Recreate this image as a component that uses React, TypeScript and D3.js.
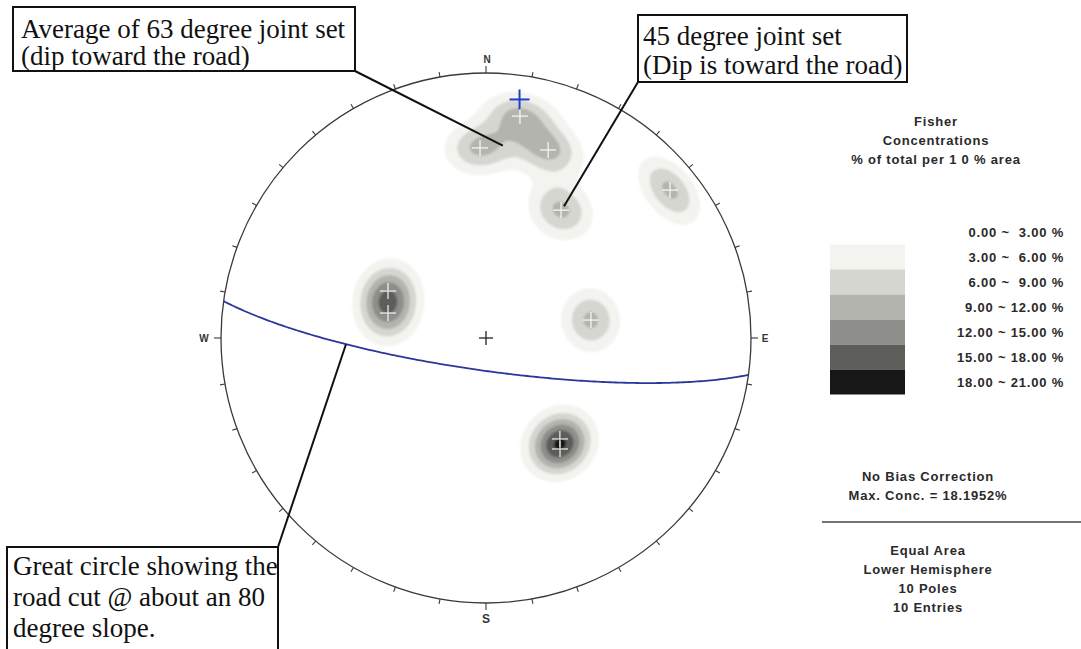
import React, { useMemo } from "react";
import * as d3 from "d3";

const W = 1081;
const H = 649;
const CX = 486;
const CY = 338;
const R = 265;

// Poles to joints read from the net: trend / plunge in degrees
const poleTrend = [143.8, 146.3, 295.6, 284.3, 51.2, 80.3, 30.4, 8.7, 358.2, 18.3];
const polePlunge = [51.0, 48.3, 56.3, 58.7, 11.9, 57.0, 43.4, 16.4, 29.0, 26.2];

// Road-cut plane (great circle)
const cutDipDirection = 188;
const cutDip = 80;

// Mean pole of the 63 degree set and the 45 degree set
const mean63 = { trend: 5, plunge: 28 };
const set45 = { trend: 30.4, plunge: 43.4 };

// Fisher kernel
const fisherK = 88;
const peakPerPole = 9.7;

const thresholds = [0, 3, 6, 9, 12, 15, 18];
const bandColors = ["#ffffff", "#f3f3ef", "#d6d6d1", "#b4b4af", "#8e8e8a", "#5d5d5a", "#171717"];
const legendLabels = [
  "0.00 ~  3.00 %",
  "3.00 ~  6.00 %",
  "6.00 ~  9.00 %",
  "9.00 ~ 12.00 %",
  "12.00 ~ 15.00 %",
  "15.00 ~ 18.00 %",
  "18.00 ~ 21.00 %",
];
const legendTitle = ["Fisher", "Concentrations", "% of total per 1 0 % area"];
const infoTop = ["No Bias Correction", "Max. Conc. = 18.1952%"];
const infoBottom = ["Equal Area", "Lower Hemisphere", "10 Poles", "10 Entries"];

const note1 = ["Average of 63 degree joint set", "(dip toward the road)"];
const note2 = ["45 degree joint set", "(Dip is toward the road)"];
const note3 = ["Great circle showing the", "road cut @ about an 80", "degree slope."];

const rad = Math.PI / 180;

function project(trend: number, plunge: number): [number, number] {
  const r = R * Math.SQRT2 * Math.sin(((90 - plunge) * rad) / 2);
  return [CX + r * Math.sin(trend * rad), CY - r * Math.cos(trend * rad)];
}
function vec(trend: number, plunge: number): [number, number, number] {
  const t = trend * rad;
  const p = plunge * rad;
  return [Math.cos(p) * Math.cos(t), Math.cos(p) * Math.sin(t), Math.sin(p)];
}

function Cross({ x, y, s, stroke, w }: { x: number; y: number; s: number; stroke: string; w: number }) {
  return (
    <g stroke={stroke} strokeWidth={w}>
      <line x1={x - s} y1={y} x2={x + s} y2={y} />
      <line x1={x} y1={y - s} x2={x} y2={y + s} />
    </g>
  );
}

export default function App() {
  const { contourPaths, gcPath, gcPoints } = useMemo(() => {
    const poles = poleTrend.map((t, i) => vec(t, polePlunge[i]));
    const step = 2;
    const x0 = CX - R - 4;
    const y0 = CY - R - 4;
    const n = Math.ceil((2 * R + 8) / step) + 1;
    const values = new Array(n * n).fill(0);
    for (let j = 0; j < n; j++) {
      for (let i = 0; i < n; i++) {
        const px = x0 + i * step;
        const py = y0 + j * step;
        const dx = (px - CX) / R;
        const dy = (CY - py) / R;
        const rr = Math.sqrt(dx * dx + dy * dy);
        if (rr > 1.02) continue;
        const theta = 2 * Math.asin(Math.min(1, rr / Math.SQRT2));
        const p = Math.PI / 2 - theta;
        const t = Math.atan2(dx, dy);
        const v = [Math.cos(p) * Math.cos(t), Math.cos(p) * Math.sin(t), Math.sin(p)];
        let s = 0;
        for (const q of poles) {
          const c = Math.abs(v[0] * q[0] + v[1] * q[1] + v[2] * q[2]);
          s += peakPerPole * Math.exp(fisherK * (c - 1));
        }
        values[i + j * n] = s;
      }
    }
    const contours = d3.contours().size([n, n]).thresholds(thresholds.slice(1))(values);
    const path = d3.geoPath(
      d3.geoTransform({
        point(x: number, y: number) {
          (this as any).stream.point(x0 + (x - 0.5) * step, y0 + (y - 0.5) * step);
        },
      })
    );
    const contourPaths = contours.map((c) => ({ value: c.value, d: path(c) || "" }));

    // great circle
    const dd = cutDipDirection * rad;
    const dip = cutDip * rad;
    const sv = [Math.cos(dd - Math.PI / 2), Math.sin(dd - Math.PI / 2), 0];
    const dv = [Math.cos(dip) * Math.cos(dd), Math.cos(dip) * Math.sin(dd), Math.sin(dip)];
    const pts: [number, number][] = d3.range(0, 180.5, 1).map((a) => {
      const ca = Math.cos(a * rad);
      const sa = Math.sin(a * rad);
      const x = ca * sv[0] + sa * dv[0];
      const y = ca * sv[1] + sa * dv[1];
      const z = Math.max(0, ca * sv[2] + sa * dv[2]);
      const pl = Math.asin(Math.min(1, z)) / rad;
      const tr = Math.atan2(y, x) / rad;
      return project(tr, pl);
    });
    const gcPath = d3.line()(pts) || "";
    return { contourPaths, gcPath, gcPoints: pts };
  }, []);

  const polePos = poleTrend.map((t, i) => project(t, polePlunge[i]));
  const cutPole = project((cutDipDirection + 180) % 360, 90 - cutDip);
  const m63 = project(mean63.trend, mean63.plunge);
  const s45 = project(set45.trend, set45.plunge);
  const gcTarget = gcPoints.reduce((b, p) => (Math.abs(p[0] - 347) < Math.abs(b[0] - 347) ? p : b), gcPoints[0]);

  const colorOf = (v: number) => bandColors[thresholds.indexOf(v)];

  const ticks = d3.range(0, 360, 10);

  const legY0 = 232;
  const legDY = 25;
  const serif = "'Liberation Serif', 'Times New Roman', serif";
  const sans = "'Liberation Sans', Arial, sans-serif";

  return (
    <svg
      width={W}
      height={H}
      viewBox={`0 0 ${W} ${H}`}
      style={{ position: "fixed", left: 0, top: 0, background: "#fff" }}
    >
      <defs>
        <clipPath id="net">
          <circle cx={CX} cy={CY} r={R} />
        </clipPath>
        <filter id="soft" x="-5%" y="-5%" width="110%" height="110%">
          <feGaussianBlur stdDeviation="0.9" />
        </filter>
      </defs>
      <rect width={W} height={H} fill="#fff" />

      {/* density contours */}
      <g clipPath="url(#net)" filter="url(#soft)">
        {contourPaths.map((c) => (
          <path key={c.value} d={c.d} fill={colorOf(c.value)} />
        ))}
      </g>
      <g clipPath="url(#net)" opacity={0.8}>
        {polePos.map((p, i) => (
          <Cross key={i} x={p[0]} y={p[1]} s={8} stroke="#ffffff" w={1.4} />
        ))}
      </g>

      {/* primitive circle */}
      <circle cx={CX} cy={CY} r={R} fill="none" stroke="#3a3a3a" strokeWidth={1.3} />
      {ticks.map((a) => {
        const len = a % 90 === 0 ? 7 : 5;
        const s = Math.sin(a * rad);
        const c = Math.cos(a * rad);
        return (
          <line
            key={a}
            x1={CX + R * s}
            y1={CY - R * c}
            x2={CX + (R + len) * s}
            y2={CY - (R + len) * c}
            stroke="#3a3a3a"
            strokeWidth={1.1}
          />
        );
      })}
      <g fontFamily={sans} fontSize={10} fontWeight="bold" fill="#333" textAnchor="middle">
        <text x={CX + 1} y={CY - R - 10}>N</text>
        <text x={CX} y={CY + R + 20} fontSize={12}>S</text>
        <text x={CX - R - 17} y={CY + 4}>W</text>
        <text x={CX + R + 14} y={CY + 4}>E</text>
      </g>

      {/* great circle */}
      <path d={gcPath} fill="none" stroke="#2a379c" strokeWidth={1.8} />

      {/* centre and plane pole */}
      <Cross x={CX} y={CY} s={7} stroke="#222" w={1.3} />
      <Cross x={cutPole[0]} y={cutPole[1]} s={10} stroke="#2040c8" w={2} />

      {/* annotation boxes */}
      <g fontFamily={serif} fontSize={27} fill="#111">
        <rect x={13} y={7} width={342} height={64} fill="#fff" stroke="#111" strokeWidth={2} />
        {note1.map((t, i) => (
          <text key={i} x={21} y={38 + i * 27}>{t}</text>
        ))}
        <rect x={638} y={15} width={269} height={67} fill="#fff" stroke="#111" strokeWidth={2} />
        {note2.map((t, i) => (
          <text key={i} x={643} y={45 + i * 29}>{t}</text>
        ))}
        <rect x={7} y={547} width={271} height={120} fill="#fff" stroke="#111" strokeWidth={2} />
        {note3.map((t, i) => (
          <text key={i} x={13} y={575 + i * 31}>{t}</text>
        ))}
      </g>
      <g stroke="#111" strokeWidth={2}>
        <line x1={355} y1={71} x2={m63[0]} y2={m63[1]} />
        <line x1={638} y1={82} x2={s45[0] + 3} y2={s45[1] - 4} />
        <line x1={278} y1={547} x2={gcTarget[0]} y2={gcTarget[1]} />
      </g>

      {/* legend */}
      <g fontFamily={sans} fontSize={13} fontWeight="bold" fill="#2a2a2a" letterSpacing={0.8}>
        {legendTitle.map((t, i) => (
          <text key={i} x={936} y={126 + i * 19} textAnchor="middle">{t}</text>
        ))}
        {legendLabels.map((t, i) => (
          <text key={i} x={1064} y={legY0 + i * legDY} dy="0.35em" textAnchor="end" style={{ whiteSpace: "pre" }}>
            {t}
          </text>
        ))}
        {infoTop.map((t, i) => (
          <text key={i} x={928} y={481 + i * 19} textAnchor="middle">{t}</text>
        ))}
        {infoBottom.map((t, i) => (
          <text key={i} x={928} y={555 + i * 19} textAnchor="middle">{t}</text>
        ))}
      </g>
      {bandColors.map((c, i) => (
        <rect key={i} x={830} y={legY0 + i * legDY - legDY / 2} width={75} height={legDY} fill={c} />
      ))}
      <line x1={822} y1={522} x2={1081} y2={522} stroke="#444" strokeWidth={1.5} />
    </svg>
  );
}
